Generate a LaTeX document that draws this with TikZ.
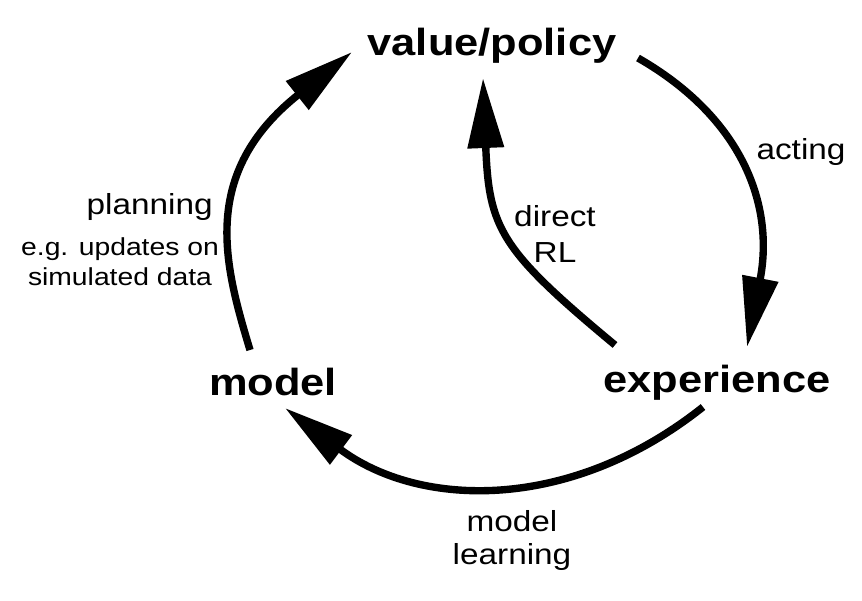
\documentclass[tikz,border=0pt]{standalone}
\usepackage{fontspec}
\setmainfont[FakeStretch=1.15]{Liberation Sans}
\usetikzlibrary{arrows.meta,calc}

\begin{document}
\begin{tikzpicture}[x=0.02cm,y=-0.02cm,
  seta/.style={line width=4.2pt,-{Triangle[length=1.4cm,width=0.7cm]}},
  estado/.style={inner sep=0pt,anchor=base,font=\bfseries\fontsize{21.5}{26}\selectfont},
  rotulo/.style={inner sep=0pt,align=center,anchor=base,font=\fontsize{16.5}{19}\selectfont}]

\useasboundingbox (0,0) rectangle (862,600);

% Estados
\node[estado] (valor) at (492,55) {value/policy};
\node[estado] (modelo) at (273,395) {model};
\node[estado] (exper) at (717,392) {experience};

% Setas
\draw[seta] ($(modelo.base)+(-23,-45)$) .. controls (224.6,265.5) and (198.7,173.8) .. ($(valor.base)+(-140,-3)$);
\draw[seta] ($(valor.base)+(146,3)$) .. controls (742.7,118) and (774.5,205.4) .. ($(exper.base)+(30,-45)$);
\draw[seta] ($(exper.base)+(-14,15)$) .. controls (571,512) and (420,509) .. ($(modelo.base)+(12,13)$);
\draw[seta] ($(exper.base)+(-102,-47)$) .. controls (499.7,249.2) and (489,228.5) .. ($(valor.base)+(-9,23)$);

% Rotulos (base = ultima linha)
\node[rotulo] (agir) at (801,159) {acting};
\node[rotulo,anchor=base east] (planej) at (213,214) {planning};
\node[rotulo,font=\fontsize{14}{17}\selectfont] (simul) at (120,285) {e.g. updates on\\simulated data};
\node[rotulo,font=\fontsize{16.5}{20}\selectfont] (direto) at (555,262) {direct\\RL};
\node[rotulo,font=\fontsize{16.5}{18.7}\selectfont] (aprend) at (512,564) {model\\learning};

\end{tikzpicture}
\end{document}
